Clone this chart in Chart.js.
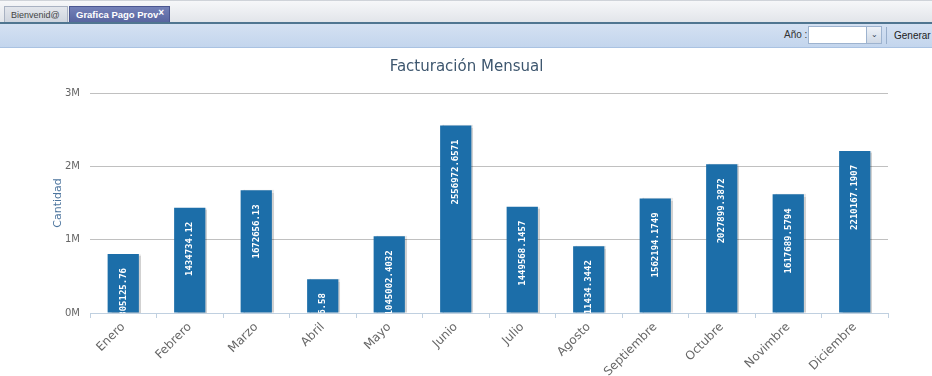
<!DOCTYPE html>
<html>
<head>
<meta charset="utf-8">
<script src="https://cdn.jsdelivr.net/npm/chart.js@4/dist/chart.umd.min.js"></script>
<style>
  body { margin: 0; width: 932px; height: 376px; overflow: hidden; background: #fff; font-family: "Liberation Sans", Arial, sans-serif; }
  .tabs { position: absolute; left: 0; top: 0; width: 932px; height: 22px; background: linear-gradient(#f6f7f9, #e2e5ea); border-top: 1px solid #cfd3d9; box-sizing: border-box; }
  .tab { position: absolute; top: 5px; height: 17px; font-size: 9px; line-height: 16px; padding-left: 6px; box-sizing: border-box; border: 1px solid #a9b2c2; border-bottom: none; white-space: nowrap; overflow: hidden; }
  .t1 { left: 4px; width: 64px; background: linear-gradient(#e3e6ec, #cdd3dd); color: #444; }
  .t2 { left: 69px; width: 101px; background: linear-gradient(#7481b8, #56639e); color: #fff; font-weight: bold; border-color: #4a5690; font-size: 9.5px; }
  .t2 span { position: absolute; right: 5px; top: -2px; font-size: 10px; }
  .line { position: absolute; left: 0; top: 22px; width: 932px; height: 2px; background: #4f7590; }
  .bar { position: absolute; left: 0; top: 24px; width: 932px; height: 24px; background: linear-gradient(#d4e1f2, #c3d5ed); border-bottom: 1px solid #a9c2e2; box-sizing: border-box; }
  .lbl { position: absolute; left: 784px; top: 5px; font-size: 10px; color: #333; }
  .sel { position: absolute; left: 808px; top: 2px; width: 74px; height: 18px; background: #fff; border: 1px solid #9db3cf; box-sizing: border-box; }
  .sel i { position: absolute; right: 0; top: 0; width: 14px; height: 16px; background: linear-gradient(#eef2f8, #cfd9e6); border-left: 1px solid #9db3cf; font-style: normal; font-size: 8px; text-align: center; line-height: 16px; color: #345; }
  .sep { position: absolute; left: 886px; top: 3px; width: 1px; height: 17px; background: #98aecb; }
  .gen { position: absolute; left: 894px; top: 6px; font-size: 10px; color: #222; }
  .wrap { position: absolute; left: 0; top: 48px; width: 932px; height: 328px; }
</style>
</head>
<body>
<div class="tabs">
  <div class="tab t1">Bienvenid@</div>
  <div class="tab t2">Grafica Pago Prov<span>×</span></div>
</div>
<div class="line"></div>
<div class="bar">
  <div class="lbl">Año :</div>
  <div class="sel"><i>⌄</i></div>
  <div class="sep"></div>
  <div class="gen">Generar</div>
</div>
<div class="wrap"><canvas id="grafica"></canvas></div>
<script>
// datos de la grafica
const meses = ['Enero', 'Febrero', 'Marzo', 'Abril', 'Mayo', 'Junio', 'Julio', 'Agosto', 'Septiembre', 'Octubre', 'Novimbre', 'Diciembre'];
const cantidades = [805125.76, 1434734.12, 1672656.13, 461006.58, 1045002.4032, 2556972.6571, 1449568.1457, 911434.3442, 1562194.1749, 2027899.3872, 1617689.5794, 2210167.1907];
const etiquetas = ['805125.76', '1434734.12', '1672656.13', '461006.58', '1045002.4032', '2556972.6571', '1449568.1457', '911434.3442', '1562194.1749', '2027899.3872', '1617689.5794', '2210167.1907'];
const ticksY = [0, 1000000, 2000000, 3000000];

// sombra de las barras
const sombra = {
    id: 'sombra',
    beforeDatasetDraw(chart) {
        const ctx = chart.ctx;
        ctx.save();
        ctx.shadowColor = 'rgba(0, 0, 0, 0.18)';
        ctx.shadowOffsetX = 2;
        ctx.shadowOffsetY = 0;
        ctx.shadowBlur = 1;
    },
    afterDatasetDraw(chart) {
        chart.ctx.restore();
    }
};

// valores dentro de la barra, rotados
const valores = {
    id: 'valores',
    afterDatasetsDraw(chart) {
        const ctx = chart.ctx;
        const area = chart.chartArea;
        const meta = chart.getDatasetMeta(0);
        ctx.save();
        ctx.beginPath();
        ctx.rect(area.left, area.top, area.right - area.left, area.bottom - area.top);
        ctx.clip();
        ctx.fillStyle = '#ffffff';
        ctx.font = 'bold 9px "DejaVu Sans Mono"';
        ctx.textAlign = 'right';
        ctx.textBaseline = 'middle';
        meta.data.forEach((bar, i) => {
            ctx.save();
            ctx.translate(bar.x, bar.y + 14);
            ctx.rotate(-Math.PI / 2);
            ctx.fillText(etiquetas[i], 0, 0);
            ctx.restore();
        });
        ctx.restore();
    }
};

var myCanvas = document.getElementById('grafica').getContext('2d');

var grafica = new Chart(myCanvas, {
    type: 'bar',
    data: {
        labels: meses,
        datasets: [{
            label: 'Cantidad',
            data: cantidades,
            backgroundColor: '#1c6ea9',
            borderWidth: 0,
            barPercentage: 0.47,
            categoryPercentage: 1
        }]
    },
    plugins: [sombra, valores],
    options: {
        responsive: true,
        maintainAspectRatio: false,
        animation: false,
        layout: {
            padding: { left: 45, right: 44, top: 0, bottom: 0 }
        },
        plugins: {
            legend: { display: false },
            tooltip: { enabled: false },
            title: {
                display: true,
                text: 'Facturación Mensual',
                color: '#3e576f',
                font: { family: 'DejaVu Sans', size: 15, weight: 'normal' },
                padding: { top: 10, bottom: 17 }
            }
        },
        scales: {
            x: {
                grid: {
                    offset: true,
                    drawOnChartArea: false,
                    drawTicks: true,
                    tickLength: 5,
                    color: '#c0d0e0'
                },
                border: { color: '#c0d0e0' },
                ticks: {
                    color: '#666666',
                    font: { family: 'DejaVu Sans', size: 12 },
                    maxRotation: 45,
                    minRotation: 45,
                    autoSkip: false,
                    padding: 2
                },
                afterFit(scale) { scale.height = 63; }
            },
            y: {
                min: 0,
                max: 3000000,
                afterBuildTicks(scale) {
                    scale.ticks = ticksY.map(v => ({ value: v }));
                },
                grid: {
                    color: '#c0c0c0',
                    drawTicks: false
                },
                border: { display: false },
                ticks: {
                    color: '#666666',
                    font: { family: 'DejaVu Sans', size: 10 },
                    padding: 10,
                    callback: v => (v / 1000000) + 'M'
                },
                title: {
                    display: true,
                    text: 'Cantidad',
                    color: '#4d759e',
                    font: { family: 'DejaVu Sans', size: 11 },
                    padding: { top: 7, bottom: 0 }
                },
                afterFit(scale) { scale.width = 45; }
            }
        }
    }
});
</script>
</body>
</html>
